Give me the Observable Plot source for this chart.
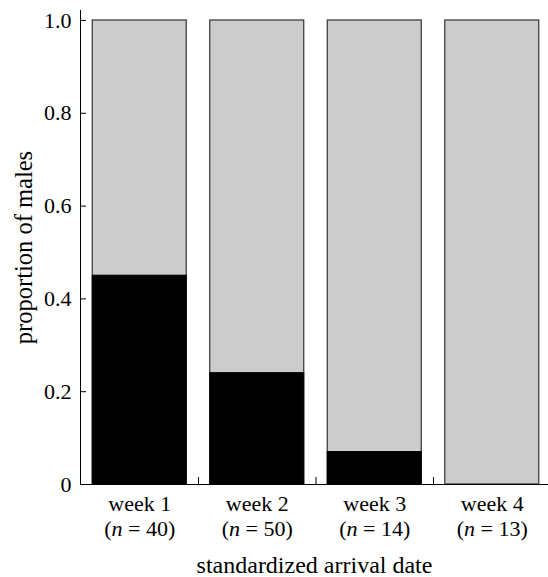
<!DOCTYPE html>
<html>
<head>
<meta charset="utf-8">
<script src="https://cdn.jsdelivr.net/npm/d3@7"></script>
<script src="https://cdn.jsdelivr.net/npm/@observablehq/plot@0.6"></script>
<style>
  html, body { margin: 0; padding: 0; background: white; }
</style>
</head>
<body>
<div id="chart"></div>
<script>
const weeks = ["week 1", "week 2", "week 3", "week 4"];
const sampleSizes = [40, 50, 14, 13];
const maleProportion = [0.45, 0.24, 0.07, 0];
const yTicks = [0, 0.2, 0.4, 0.6, 0.8, 1.0];
const yTickLabels = ["0", "0.2", "0.4", "0.6", "0.8", "1.0"];
const xTitle = "standardized arrival date";
const yTitle = "proportion of males";

const data = weeks.map((w, i) => ({week: w, pos: i + 1, n: sampleSizes[i], male: maleProportion[i]}));
const boundaries = weeks.slice(1).map((w, i) => i + 1.5);
const half = 0.4;
const serif = "'Liberation Serif', 'Times New Roman', serif";

const chart = Plot.plot({
  width: 548,
  height: 577,
  marginLeft: 80,
  marginRight: 0,
  marginTop: 10,
  marginBottom: 93,
  style: {fontFamily: serif, fontSize: "22px", color: "black", background: "white"},
  x: {type: "linear", domain: [0.5, 4.5], range: [80.5, 550.5], axis: null},
  y: {domain: [0, 1.0215], axis: null},
  marks: [
    Plot.rect(data, {x1: d => d.pos - half, x2: d => d.pos + half, y1: 0, y2: 1, fill: "#cccccc", stroke: "#333", strokeWidth: 1.2}),
    Plot.rect(data.filter(d => d.male > 0), {x1: d => d.pos - half, x2: d => d.pos + half, y1: 0, y2: "male", fill: "black", stroke: "black", strokeWidth: 1}),
    Plot.frame({anchor: "left", stroke: "black"}),
    Plot.frame({anchor: "bottom", stroke: "black"}),
    Plot.axisY({ticks: yTicks, tickSize: -6, tickFormat: () => "", label: null}),
    Plot.axisY({ticks: yTicks, tickSize: 0, tickPadding: 9, tickFormat: (d) => yTickLabels[yTicks.indexOf(d)], label: null, fontFamily: serif, fontSize: 22}),
    Plot.axisY({ticks: [], tickSize: 0, label: yTitle, labelAnchor: "center", labelArrow: "none", labelOffset: 66, fontFamily: serif, fontSize: 24.5}),
    Plot.axisX({ticks: boundaries, tickSize: -7, tickFormat: () => "", label: null}),
    Plot.axisX({ticks: data.map(d => d.pos), tickSize: 0, tickPadding: 9, tickFormat: (p) => `${weeks[p - 1]}\n(n = ${sampleSizes[p - 1]})`, label: null, lineHeight: 1.14, fontFamily: serif, fontSize: 22}),
    Plot.axisX({ticks: [], tickSize: 0, label: xTitle, labelAnchor: "center", labelArrow: "none", labelOffset: 88, fontFamily: serif, fontSize: 24})
  ]
});

// italicize the "n" in the tick labels
d3.select(chart).selectAll("tspan").each(function() {
  const t = this.textContent;
  const m = t.match(/^\(n = (\d+)\)$/);
  if (m) {
    const sel = d3.select(this);
    sel.text("");
    sel.append("tspan").text("(");
    sel.append("tspan").attr("font-style", "italic").text("n");
    sel.append("tspan").text(" = " + m[1] + ")");
  }
});
document.getElementById("chart").appendChild(chart);
</script>
</body>
</html>
